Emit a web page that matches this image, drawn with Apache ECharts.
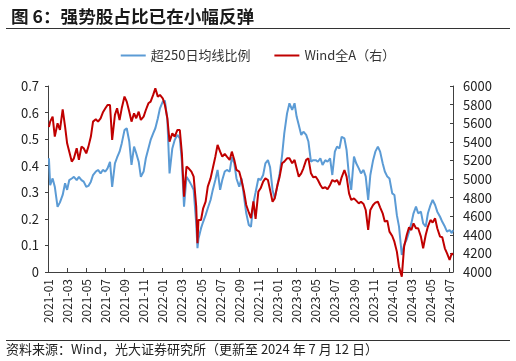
<!DOCTYPE html>
<html><head><meta charset="utf-8">
<script src="https://cdn.jsdelivr.net/npm/echarts@6/dist/echarts.min.js"></script>
<style>html,body{margin:0;padding:0;background:#fff}#c{width:516px;height:361px}</style>
</head><body><div id="c"></div>
<script>
const dates = [
"2021-01-04","2021-01-08","2021-01-16","2021-01-23",
"2021-02-01","2021-02-08","2021-02-16","2021-02-23",
"2021-03-01","2021-03-08","2021-03-16","2021-03-23",
"2021-04-01","2021-04-08","2021-04-16","2021-04-23",
"2021-05-01","2021-05-08","2021-05-16","2021-05-23",
"2021-06-01","2021-06-08","2021-06-16","2021-06-23",
"2021-07-01","2021-07-08","2021-07-16","2021-07-23",
"2021-08-01","2021-08-08","2021-08-16","2021-08-23",
"2021-09-01","2021-09-08","2021-09-16","2021-09-23",
"2021-10-01","2021-10-08","2021-10-16","2021-10-23",
"2021-11-01","2021-11-08","2021-11-16","2021-11-23",
"2021-12-01","2021-12-08","2021-12-16","2021-12-23",
"2022-01-01","2022-01-08","2022-01-16","2022-01-23",
"2022-02-01","2022-02-08","2022-02-16","2022-02-23",
"2022-03-01","2022-03-08","2022-03-16","2022-03-23",
"2022-04-01","2022-04-08","2022-04-16","2022-04-20","2022-04-23",
"2022-05-01","2022-05-08","2022-05-16","2022-05-23",
"2022-06-01","2022-06-08","2022-06-16","2022-06-23",
"2022-07-01","2022-07-08","2022-07-16","2022-07-23",
"2022-08-01","2022-08-08","2022-08-16","2022-08-23",
"2022-09-01","2022-09-08","2022-09-16","2022-09-23",
"2022-10-01","2022-10-08","2022-10-16","2022-10-23",
"2022-11-01","2022-11-08","2022-11-16","2022-11-23",
"2022-12-01","2022-12-08","2022-12-16","2022-12-23",
"2023-01-01","2023-01-08","2023-01-16","2023-01-23",
"2023-02-01","2023-02-08","2023-02-16","2023-02-23",
"2023-03-01","2023-03-08","2023-03-16","2023-03-23",
"2023-04-01","2023-04-08","2023-04-16","2023-04-23",
"2023-05-01","2023-05-08","2023-05-16","2023-05-23",
"2023-06-01","2023-06-08","2023-06-16","2023-06-23",
"2023-07-01","2023-07-08","2023-07-16","2023-07-23",
"2023-08-01","2023-08-08","2023-08-16","2023-08-23",
"2023-09-01","2023-09-08","2023-09-16","2023-09-23",
"2023-10-01","2023-10-08","2023-10-16","2023-10-23",
"2023-11-01","2023-11-08","2023-11-16","2023-11-23",
"2023-12-01","2023-12-08","2023-12-16","2023-12-23",
"2024-01-01","2024-01-08","2024-01-16","2024-01-23",
"2024-02-01","2024-02-08","2024-02-16","2024-02-23",
"2024-03-01","2024-03-08","2024-03-16","2024-03-23",
"2024-04-01","2024-04-08","2024-04-16","2024-04-23",
"2024-05-01","2024-05-08","2024-05-16","2024-05-23",
"2024-06-01","2024-06-08","2024-06-16","2024-06-23",
"2024-07-01","2024-07-08","2024-07-12"
];
const ratio = [
0.428,0.327,0.352,0.321,
0.245,0.262,0.290,0.334,
0.309,0.346,0.352,0.358,
0.346,0.358,0.346,0.340,
0.321,0.324,0.340,0.365,
0.378,0.384,0.371,0.384,
0.378,0.390,0.415,0.320,
0.409,0.431,0.453,0.484,
0.534,0.541,0.491,0.403,
0.472,0.447,0.415,0.358,
0.378,0.428,0.465,0.497,
0.522,0.541,0.578,0.616,
0.641,0.645,0.572,0.371,
0.465,0.497,0.516,0.503,
0.415,0.246,0.358,0.346,
0.327,0.309,0.183,0.090,0.125,
0.164,0.189,0.214,0.240,
0.271,0.309,0.346,0.384,
0.309,0.346,0.378,0.384,
0.378,0.431,0.409,0.352,
0.321,0.352,0.283,0.221,
0.177,0.170,0.260,0.300,
0.352,0.346,0.365,0.409,
0.421,0.394,0.309,0.277,
0.327,0.371,0.440,0.522,
0.597,0.635,0.610,0.635,
0.585,0.553,0.516,0.528,
0.516,0.491,0.415,0.421,
0.421,0.415,0.428,0.403,
0.421,0.415,0.428,0.365,
0.453,0.472,0.465,0.509,
0.503,0.459,0.359,0.309,
0.434,0.409,0.390,0.371,
0.384,0.359,0.271,0.365,
0.421,0.453,0.472,0.453,
0.409,0.378,0.359,0.352,
0.296,0.290,0.214,0.171,
0.064,0.102,0.123,0.152,
0.183,0.221,0.246,0.221,
0.227,0.183,0.171,0.221,
0.252,0.271,0.252,0.227,
0.208,0.189,0.171,0.152,
0.158,0.146,0.158
];
const windA = [
5560,5617,5671,5456,
5599,5527,5749,5563,
5384,5294,5187,5222,
5330,5205,5348,5330,
5276,5348,5456,5617,
5642,5617,5653,5714,
5760,5796,5796,5420,
5689,5760,5635,5760,
5886,5832,5724,5617,
5706,5653,5724,5635,
5671,5742,5814,5832,
5904,5975,5886,5904,
5868,5796,5653,5402,
5491,5456,5527,5527,
5276,4810,5133,5115,
5079,5025,4703,4310,4560,
4559,4685,4756,4918,
5007,5115,5240,5366,
5294,5240,5269,5240,
5205,5294,5205,5097,
5079,4989,4864,4721,
4640,4580,4760,4570,
4864,4900,4972,5007,
4989,4882,4756,4792,
4936,5025,5169,5187,
5222,5222,5169,5205,
5115,5025,5061,5115,
5205,5222,5061,5018,
5025,4989,4936,4900,
4911,4889,4936,4989,
4972,4989,4936,5018,
5097,5025,4846,4774,
4792,4767,4738,4756,
4731,4667,4452,4667,
4721,4746,4756,4695,
4631,4541,4552,4434,
4387,4326,4219,4057,
3950,4272,4398,4480,
4452,4523,4470,4470,
4380,4255,4398,4488,
4559,4531,4577,4470,
4380,4373,4255,4201,
4129,4201,4183
];
const tickLabels = ["2021-01","2021-03","2021-05","2021-07","2021-09","2021-11",
"2022-01","2022-03","2022-05","2022-07","2022-09","2022-11",
"2023-01","2023-03","2023-05","2023-07","2023-09","2023-11",
"2024-01","2024-03","2024-05","2024-07"];
const leftTicks = [0,0.1,0.2,0.3,0.4,0.5,0.6,0.7];
const rightTicks = [4000,4200,4400,4600,4800,5000,5200,5400,5600,5800,6000];
const seriesNames = ["超250日均线比例","Wind全A（右）"];

function monthIndex(s){
  const p = s.split('-').map(Number);
  const dim = new Date(p[0], p[1], 0).getDate();
  return (p[0]-2021)*12 + (p[1]-1) + (p[2]-1)/dim;
}
const xs = dates.map(monthIndex);
const FONT = "'Noto Sans CJK SC', 'Noto Sans', sans-serif";
const axisColor = '#404040';
const chart = echarts.init(document.getElementById('c'), null, {renderer:'canvas'});
chart.setOption({
  animation:false,
  backgroundColor:'#fff',
  textStyle:{fontFamily:FONT},
  title:{text:'图 6：强势股占比已在小幅反弹', left:6, top:3,
    textStyle:{fontFamily:FONT, fontSize:17.6, fontWeight:'bold', color:'#1a1a1a'}},
  legend:{top:44, left:'center', icon:'rect', itemWidth:25, itemHeight:2, itemGap:24,
    textStyle:{fontFamily:FONT, fontSize:13, color:'#333'},
    data:seriesNames},
  grid:{left:48, right:63, top:86, bottom:89, containLabel:false},
  xAxis:{type:'value', min:0, max:xs[xs.length-1], interval:2,
    axisLine:{lineStyle:{color:axisColor, width:1}},
    axisTick:{show:true, inside:true, length:4, lineStyle:{color:axisColor}},
    splitLine:{show:false},
    axisLabel:{rotate:90, margin:7, fontSize:12, color:'#222', fontFamily:FONT,
      showMaxLabel:false,
      formatter:function(v){ const k=Math.round(v); if(Math.abs(v-k)>1e-6||k%2) return ''; return tickLabels[k/2]||''; }}
  },
  yAxis:[
    {type:'value', min:leftTicks[0], max:leftTicks[leftTicks.length-1], interval:0.1, position:'left',
     axisLine:{show:true, lineStyle:{color:axisColor}},
     axisTick:{show:true, length:3, lineStyle:{color:axisColor}},
     splitLine:{show:false},
     axisLabel:{margin:9, fontSize:13, color:'#222', fontFamily:FONT,
       formatter:function(v){ return v===0?'0':(Math.round(v*10)/10).toFixed(1); }}},
    {type:'value', min:rightTicks[0], max:rightTicks[rightTicks.length-1], interval:200, position:'right',
     axisLine:{show:true, lineStyle:{color:axisColor}},
     axisTick:{show:true, inside:true, length:3, lineStyle:{color:axisColor}},
     splitLine:{show:false},
     axisLabel:{margin:10, fontSize:13, color:'#222', fontFamily:FONT,
       formatter:function(v){ return String(Math.round(v)); }}}
  ],
  series:[
    {name:seriesNames[0], type:'line', yAxisIndex:0, symbol:'none', showSymbol:false,
     lineStyle:{color:'#5B9BD5', width:2}, itemStyle:{color:'#5B9BD5'},
     data:xs.map((x,i)=>[x, ratio[i]])},
    {name:seriesNames[1], type:'line', yAxisIndex:1, symbol:'none', showSymbol:false, clip:false,
     lineStyle:{color:'#C00000', width:2}, itemStyle:{color:'#C00000'},
     data:xs.map((x,i)=>[x, windA[i]])}
  ],
  graphic:[
    {type:'line', shape:{x1:6,y1:28.5,x2:510,y2:28.5}, style:{stroke:'#333', lineWidth:1}},
    {type:'line', shape:{x1:6,y1:340.5,x2:510,y2:340.5}, style:{stroke:'#333', lineWidth:1}},
    {type:'text', left:6, top:343, style:{text:'资料来源：Wind，光大证券研究所（更新至 2024 年 7 月 12 日）',
      font:'13px '+FONT, fill:'#222'}}
  ]
});
</script></body></html>
